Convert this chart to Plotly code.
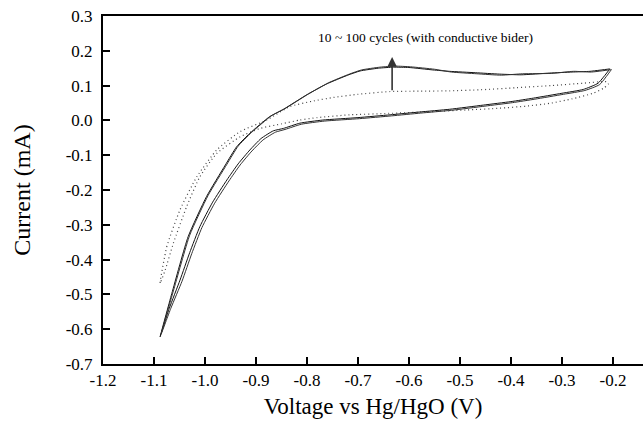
import plotly.graph_objects as go

# Solid curves: 10~100 cycles (with conductive binder), two nearly overlapping cycles
va_up = [-1.088, -1.065, -1.033, -0.997, -0.960, -0.938, -0.912, -0.873, -0.846, -0.800, -0.761, -0.720, -0.696, -0.660, -0.630, -0.600, -0.553, -0.520, -0.470, -0.422, -0.380, -0.324, -0.280, -0.245, -0.206]
ia_up = [-0.622, -0.497, -0.334, -0.219, -0.128, -0.076, -0.037, 0.011, 0.032, 0.074, 0.105, 0.130, 0.142, 0.150, 0.153, 0.152, 0.145, 0.141, 0.137, 0.133, 0.131, 0.136, 0.139, 0.141, 0.148]
va_dn = [-0.206, -0.229, -0.258, -0.300, -0.356, -0.400, -0.454, -0.520, -0.580, -0.637, -0.700, -0.769, -0.814, -0.846, -0.866, -0.890, -0.912, -0.935, -0.957, -0.985, -1.010, -1.030, -1.049, -1.070, -1.088]
ia_dn = [0.148, 0.107, 0.089, 0.078, 0.064, 0.054, 0.044, 0.032, 0.024, 0.016, 0.008, 0.001, -0.008, -0.023, -0.030, -0.052, -0.085, -0.125, -0.171, -0.235, -0.305, -0.380, -0.459, -0.540, -0.622]

vb_up = [-1.086, -1.062, -1.030, -0.994, -0.957, -0.935, -0.909, -0.870, -0.843, -0.797, -0.758, -0.717, -0.693, -0.657, -0.627, -0.597, -0.550, -0.517, -0.467, -0.419, -0.377, -0.321, -0.277, -0.242, -0.203]
ib_up = [-0.614, -0.490, -0.330, -0.216, -0.126, -0.074, -0.035, 0.013, 0.034, 0.076, 0.108, 0.133, 0.145, 0.153, 0.156, 0.154, 0.147, 0.139, 0.134, 0.130, 0.134, 0.135, 0.141, 0.139, 0.146]
vb_dn = [-0.203, -0.226, -0.255, -0.297, -0.353, -0.397, -0.451, -0.517, -0.577, -0.634, -0.697, -0.766, -0.811, -0.843, -0.862, -0.886, -0.908, -0.931, -0.953, -0.981, -1.006, -1.026, -1.045, -1.067, -1.086]
ib_dn = [0.146, 0.103, 0.086, 0.075, 0.061, 0.051, 0.041, 0.029, 0.021, 0.013, 0.005, -0.002, -0.011, -0.026, -0.034, -0.056, -0.088, -0.128, -0.174, -0.238, -0.308, -0.383, -0.462, -0.540, -0.614]

# Dotted curve
vd = [-1.088, -1.075, -1.049, -1.016, -0.977, -0.931, -0.879, -0.833, -0.790, -0.748, -0.700, -0.637, -0.580, -0.520, -0.460, -0.389, -0.320, -0.258, -0.212,
      -0.209, -0.219, -0.239, -0.280, -0.324, -0.370, -0.422, -0.487, -0.560, -0.640, -0.716, -0.780, -0.814, -0.850, -0.892, -0.931, -0.977, -1.010, -1.036, -1.062, -1.078, -1.088]
id_ = [-0.468, -0.363, -0.257, -0.162, -0.085, -0.032, 0.001, 0.040, 0.055, 0.066, 0.075, 0.083, 0.084, 0.085, 0.088, 0.094, 0.100, 0.107, 0.111,
       0.104, 0.092, 0.078, 0.062, 0.049, 0.041, 0.035, 0.030, 0.025, 0.020, 0.016, 0.008, 0.001, -0.010, -0.023, -0.047, -0.095, -0.162, -0.248, -0.353, -0.430, -0.468]

x_ticks = [-1.2, -1.1, -1.0, -0.9, -0.8, -0.7, -0.6, -0.5, -0.4, -0.3, -0.2]
x_labels = ["-1.2", "-1.1", "-1.0", "-0.9", "-0.8", "-0.7", "-0.6", "-0.5", "-0.4", "-0.3", "-0.2"]
y_ticks = [0.3, 0.2, 0.1, 0.0, -0.1, -0.2, -0.3, -0.4, -0.5, -0.6, -0.7]
y_labels = ["0.3", "0.2", "0.1", "0.0", "-0.1", "-0.2", "-0.3", "-0.4", "-0.5", "-0.6", "-0.7"]

FONT = "Liberation Serif"

fig = go.Figure()
fig.add_trace(go.Scatter(x=vd, y=id_, mode="lines",
                         line=dict(color="#444", width=1.2, dash="1px,3px", shape="spline", smoothing=0.5)))
fig.add_trace(go.Scatter(x=va_up + va_dn, y=ia_up + ia_dn, mode="lines",
                         line=dict(color="#111", width=1, shape="spline", smoothing=0.5)))
fig.add_trace(go.Scatter(x=vb_up + vb_dn, y=ib_up + ib_dn, mode="lines",
                         line=dict(color="#333", width=1, shape="spline", smoothing=0.5)))

fig.add_annotation(x=-0.633, y=0.182, ax=-0.633, ay=0.082, xref="x", yref="y",
                   axref="x", ayref="y", showarrow=True, arrowhead=2,
                   arrowsize=1.2, arrowwidth=1.6, arrowcolor="#333", text="")
fig.add_annotation(x=-0.567, y=0.238, xref="x", yref="y", showarrow=False,
                   text="10 ~ 100 cycles (with conductive bider)",
                   font=dict(family=FONT, size=13.5, color="black"))

fig.update_layout(
    width=643, height=425,
    margin=dict(l=103, r=0, t=16, b=61),
    plot_bgcolor="white", paper_bgcolor="white",
    showlegend=False,
    font=dict(family=FONT, color="black"),
)
fig.update_xaxes(
    range=[-1.2, -0.141], tickvals=x_ticks, ticktext=x_labels,
    ticks="inside", ticklen=7, tickwidth=1.5, tickcolor="black",
    showline=True, linewidth=2, linecolor="black", mirror=True,
    showgrid=False, zeroline=False,
    tickfont=dict(family=FONT, size=17, color="black"),
    title=dict(text="Voltage vs Hg/HgO (V)", font=dict(family=FONT, size=23, color="black"), standoff=8),
)
fig.update_yaxes(
    range=[-0.7, 0.3], tickvals=y_ticks, ticktext=y_labels,
    ticks="inside", ticklen=7, tickwidth=1.5, tickcolor="black",
    showline=True, linewidth=2, linecolor="black",
    showgrid=False, zeroline=False, ticklabelstandoff=5,
    tickfont=dict(family=FONT, size=17, color="black"),
    title=dict(text="Current (mA)", font=dict(family=FONT, size=24, color="black"), standoff=28),
)

fig.write_html("out.html")
